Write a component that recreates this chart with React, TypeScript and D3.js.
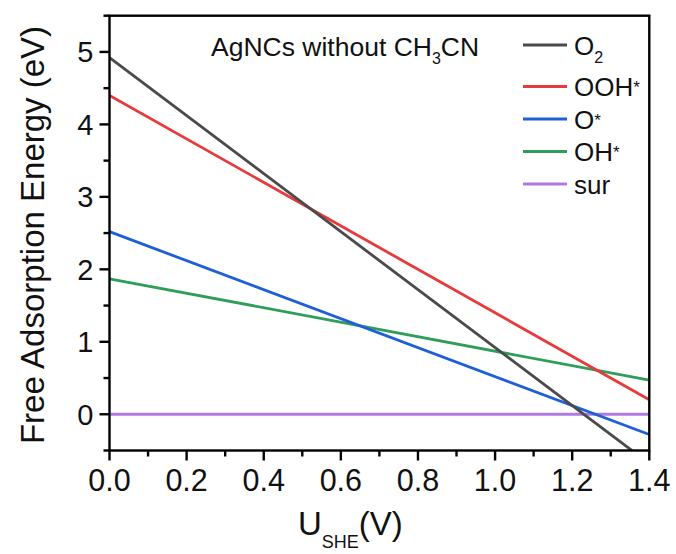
import React, { useEffect, useRef } from "react";
import * as d3 from "d3";

const uValues = [0, 1.4];
const seriesNames = ["O2", "OOH*", "O*", "OH*", "sur"];
const o2Values = [4.92, -0.68];
const oohValues = [4.4, 0.2];
const oValues = [2.52, -0.28];
const ohValues = [1.87, 0.47];
const surValues = [0, 0];
const colors = ["#4a4a4a", "#e8393b", "#1f5fd6", "#2f9e5b", "#b07ae0"];
const xTicks = [0, 0.2, 0.4, 0.6, 0.8, 1.0, 1.2, 1.4];
const yTicks = [0, 1, 2, 3, 4, 5];

const W = 676, H = 554;
const M = { left: 109.5, right: 649.3, top: 15.7, bottom: 450.5 };
const FONT = "'Liberation Sans', Arial, Helvetica, sans-serif";

export default function App() {
  const ref = useRef<SVGSVGElement>(null);
  useEffect(() => {
    const svg = d3.select(ref.current);
    svg.selectAll("*").remove();
    const x = d3.scaleLinear().domain([0, 1.4]).range([M.left, M.right]);
    const y = d3.scaleLinear().domain([-0.5, 5.5]).range([M.bottom, M.top]);

    svg.append("defs").append("clipPath").attr("id", "plotclip")
      .append("rect").attr("x", M.left).attr("y", M.top)
      .attr("width", M.right - M.left).attr("height", M.bottom - M.top);

    const all = [o2Values, oohValues, oValues, ohValues, surValues];
    const line = d3.line<[number, number]>().x(d => x(d[0])).y(d => y(d[1]));
    const g = svg.append("g").attr("clip-path", "url(#plotclip)");
    [4, 3, 2, 1, 0].forEach(i => {
      const pts = uValues.map((u, j) => [u, all[i][j]] as [number, number]);
      g.append("path").attr("d", line(pts)).attr("fill", "none")
        .attr("stroke", colors[i]).attr("stroke-width", 2.8);
    });

    svg.append("rect").attr("x", M.left).attr("y", M.top)
      .attr("width", M.right - M.left).attr("height", M.bottom - M.top)
      .attr("fill", "none").attr("stroke", "#000").attr("stroke-width", 2.4);

    const xMinor = d3.range(0, 1.41, 0.1);
    xMinor.forEach((v, i) => {
      const major = i % 2 === 0;
      svg.append("line").attr("x1", x(v)).attr("x2", x(v))
        .attr("y1", M.bottom).attr("y2", M.bottom + (major ? 10 : 6))
        .attr("stroke", "#000").attr("stroke-width", 2.4);
    });
    xTicks.forEach(v => {
      svg.append("text").attr("x", x(v)).attr("y", 491)
        .attr("text-anchor", "middle").attr("font-family", FONT)
        .attr("font-size", 30.5).attr("fill", "#111").text(d3.format(".1f")(v));
    });
    const yMinor = d3.range(-0.5, 5.51, 0.5);
    yMinor.forEach(v => {
      const major = Math.abs(v - Math.round(v)) < 1e-6;
      svg.append("line").attr("y1", y(v)).attr("y2", y(v))
        .attr("x1", M.left).attr("x2", M.left - (major ? 10 : 6))
        .attr("stroke", "#000").attr("stroke-width", 2.4);
    });
    yTicks.forEach(v => {
      svg.append("text").attr("x", 93.5).attr("y", y(v)).attr("dy", "0.36em")
        .attr("text-anchor", "end").attr("font-family", FONT)
        .attr("font-size", 29).attr("fill", "#111").text(String(v));
    });

    svg.append("text").attr("transform", `translate(44,235) rotate(-90)`)
      .attr("text-anchor", "middle").attr("font-family", FONT)
      .attr("font-size", 33).attr("fill", "#111").text("Free Adsorption Energy (eV)");

    const xt = svg.append("text").attr("x", 298).attr("y", 535)
      .attr("font-family", FONT).attr("font-size", 33).attr("fill", "#111");
    xt.append("tspan").text("U");
    xt.append("tspan").attr("font-size", 18).attr("dy", 13).text("SHE");
    xt.append("tspan").attr("dy", -13).text("(V)");

    const tt = svg.append("text").attr("x", 211).attr("y", 56)
      .attr("font-family", FONT).attr("font-size", 26.5).attr("fill", "#111");
    tt.append("tspan").text("AgNCs without CH");
    tt.append("tspan").attr("font-size", 16).attr("dy", 8).text("3");
    tt.append("tspan").attr("dy", -8).text("CN");

    const rowsY = [45, 86.5, 119, 151.5, 184];
    seriesNames.forEach((name, i) => {
      svg.append("line").attr("x1", 523).attr("x2", 567)
        .attr("y1", rowsY[i]).attr("y2", rowsY[i])
        .attr("stroke", colors[i]).attr("stroke-width", 3);
      const t = svg.append("text").attr("x", 574).attr("y", rowsY[i] + 9.5)
        .attr("font-family", FONT).attr("font-size", 26).attr("fill", "#111");
      if (name === "O2") {
        t.append("tspan").text("O");
        t.append("tspan").attr("font-size", 16).attr("dy", 8).text("2");
      } else if (name.endsWith("*")) {
        t.append("tspan").text(name.slice(0, -1));
        t.append("tspan").attr("font-size", 17).attr("dy", -3).text("*");
      } else {
        t.text(name);
      }
    });
  }, []);
  return (
    <svg ref={ref} width={W} height={H}
      style={{ position: "absolute", left: 0, top: 0, background: "#fff" }} />
  );
}
